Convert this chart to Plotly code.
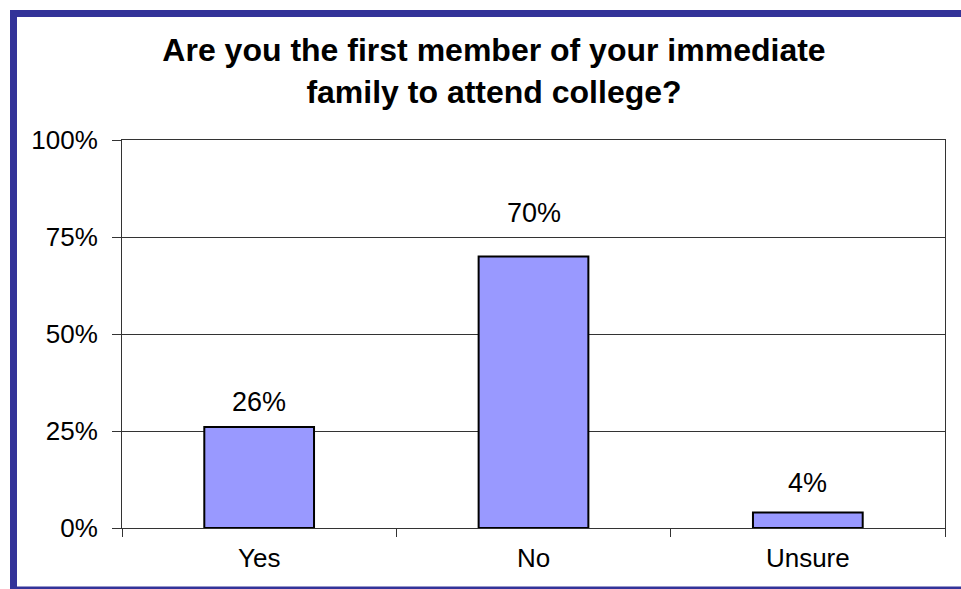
import plotly.graph_objects as go

# Survey responses
categories = ["Yes", "No", "Unsure"]
shares = [26, 70, 4]
y_ticks = [0, 25, 50, 75, 100]
y_tick_text = ["0%", "25%", "50%", "75%", "100%"]

# pixel lift of each value label above its bar
label_lift = [25, 43, 29]

W, H = 961, 589
ML, MR, MT, MB = 122, 16, 140, 61
FONT = "Liberation Sans, Arial, sans-serif"
FRAME = "#333399"

fig = go.Figure(
    go.Bar(
        x=categories,
        y=shares,
        width=0.40,
        marker=dict(color="#9999FF", line=dict(color="black", width=2)),
        hoverinfo="skip",
    )
)

# value labels above bars
for cat, val, lift in zip(categories, shares, label_lift):
    fig.add_annotation(
        x=cat, y=val, text=f"{val}%", showarrow=False,
        yanchor="middle", yshift=lift,
        font=dict(family=FONT, size=27, color="black"),
    )

# blue frame around the chart
pw, ph = W - ML - MR, H - MT - MB
def px_x(p):
    return (p - ML) / pw
def px_y(p):
    return (H - MB - p) / ph

fig.add_shape(
    type="rect", xref="paper", yref="paper",
    x0=px_x(13.5), x1=px_x(990), y0=px_y(590), y1=px_y(13.5),
    line=dict(color=FRAME, width=7), fillcolor="rgba(0,0,0,0)", layer="above",
)

fig.update_layout(
    width=W, height=H,
    margin=dict(l=ML, r=MR, t=MT, b=MB, pad=0),
    paper_bgcolor="white", plot_bgcolor="white",
    showlegend=False,
    title=dict(
        text="Are you the first member of your immediate<br>family to attend college?",
        x=494 / W, xref="container", xanchor="center",
        y=1 - 61 / H, yref="container", yanchor="middle",
        font=dict(family=FONT, size=32, color="black", weight="bold"),
    ),
    xaxis=dict(
        type="category", tickson="boundaries",
        ticks="outside", ticklen=8, tickcolor="#333", tickwidth=1,
        showline=True, linecolor="#333", linewidth=1, mirror=True,
        showgrid=False,
        tickfont=dict(family=FONT, size=26, color="black"),
        ticklabelstandoff=7,
        range=[-0.5, 2.5],
    ),
    yaxis=dict(
        range=[0, 100], tickvals=y_ticks, ticktext=y_tick_text,
        ticks="outside", ticklen=9, tickcolor="#333", tickwidth=1,
        showline=True, linecolor="#333", linewidth=1, mirror=True,
        showgrid=True, gridcolor="#333", gridwidth=1,
        zeroline=False,
        tickfont=dict(family=FONT, size=26, color="black"),
        ticklabelstandoff=9,
    ),
)

fig.write_html("out.html")
